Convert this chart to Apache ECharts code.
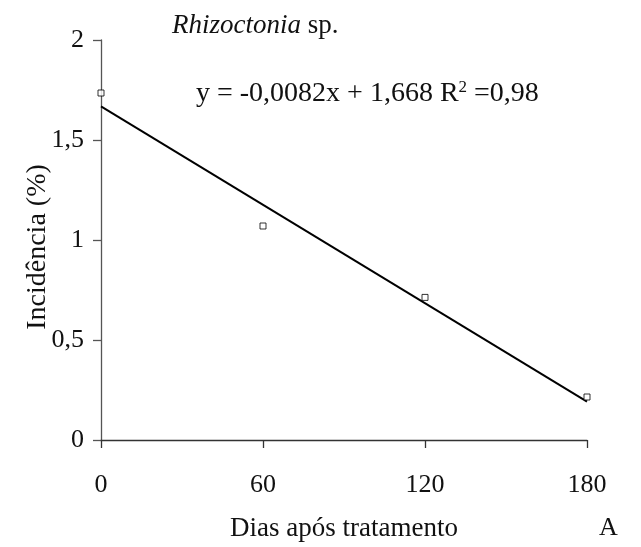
<!DOCTYPE html>
<html>
<head>
<meta charset="utf-8">
<script src="https://cdn.jsdelivr.net/npm/echarts@6/dist/echarts.min.js"></script>
<style>
  html, body { margin: 0; padding: 0; background: #fff; }
  #chart { width: 641px; height: 547px; }
</style>
</head>
<body>
<div id="chart"></div>
<script>
// Observed incidence by days after treatment
const days = [0, 60, 120, 180];
const incidence = [1.735, 1.07, 0.713, 0.215];
const xTicks = [0, 60, 120, 180];
const yTicks = [0, 0.5, 1, 1.5, 2];

// Linear fit: y = -0,0082x + 1,668
const fitSlope = -0.0082;
const fitIntercept = 1.668;
const fitRange = [0, 180];

const serif = '"Liberation Serif", "Times New Roman", serif';
const fmt = v => String(v).replace('.', ',');
const ink = '#111';

const chart = echarts.init(document.getElementById('chart'), null, { renderer: 'canvas' });
chart.setOption({
  animation: false,
  backgroundColor: '#fff',
  grid: { left: 101, top: 40, right: 54, bottom: 107, containLabel: false },
  graphic: [
    {
      type: 'text', x: 172, y: 26,
      style: {
        text: '{i|Rhizoctonia}{n| sp.}',
        verticalAlign: 'middle',
        rich: {
          i: { fontFamily: serif, fontSize: 27, fontStyle: 'italic', fill: ink },
          n: { fontFamily: serif, fontSize: 27, fill: ink }
        }
      }
    },
    {
      type: 'text', x: 196, y: 94,
      style: {
        text: '{t|y = -0,0082x + 1,668 R}{s|2}{t| =0,98}',
        verticalAlign: 'middle',
        rich: {
          t: { fontFamily: serif, fontSize: 28, fill: ink },
          s: { fontFamily: serif, fontSize: 17, fill: ink, verticalAlign: 'top', padding: [0, 0, 12, 0] }
        }
      }
    },
    {
      type: 'text', x: 38, y: 247, rotation: Math.PI / 2,
      style: {
        text: 'Incidência (%)', align: 'center', verticalAlign: 'middle',
        font: '28px ' + serif, fill: ink
      }
    },
    {
      type: 'text', x: 599, y: 528,
      style: { text: 'A', verticalAlign: 'middle', font: '26px ' + serif, fill: ink }
    }
  ],
  xAxis: {
    type: 'value', min: 0, max: 180, interval: 60,
    name: 'Dias após tratamento', nameLocation: 'middle', nameGap: 75,
    nameTextStyle: { fontFamily: serif, fontSize: 27, color: ink },
    axisLine: { onZero: false, lineStyle: { color: '#333', width: 1.3 } },
    axisTick: { show: true, length: 8, lineStyle: { color: '#333', width: 1.3 } },
    axisLabel: { fontFamily: serif, fontSize: 26, color: ink, margin: 32,
      formatter: v => xTicks.includes(v) ? fmt(v) : '' },
    splitLine: { show: false }
  },
  yAxis: {
    type: 'value', min: 0, max: 2, interval: 0.5,
    axisLine: { onZero: false, lineStyle: { color: '#555', width: 1.3 } },
    axisTick: { show: true, length: 8, lineStyle: { color: '#555', width: 1.3 } },
    axisLabel: { fontFamily: serif, fontSize: 26, color: ink, margin: 17,
      formatter: v => yTicks.includes(v) ? fmt(v) : '' },
    splitLine: { show: false }
  },
  series: [
    {
      type: 'line',
      data: fitRange.map(x => [x, fitIntercept + fitSlope * x]),
      showSymbol: false,
      lineStyle: { color: '#000', width: 2 },
      z: 2
    },
    {
      type: 'scatter',
      data: days.map((d, i) => [d, incidence[i]]),
      symbol: 'rect', symbolSize: 6,
      itemStyle: { color: '#fff', borderColor: '#000', borderWidth: 1 },
      z: 3
    }
  ]
});
</script>
</body>
</html>
